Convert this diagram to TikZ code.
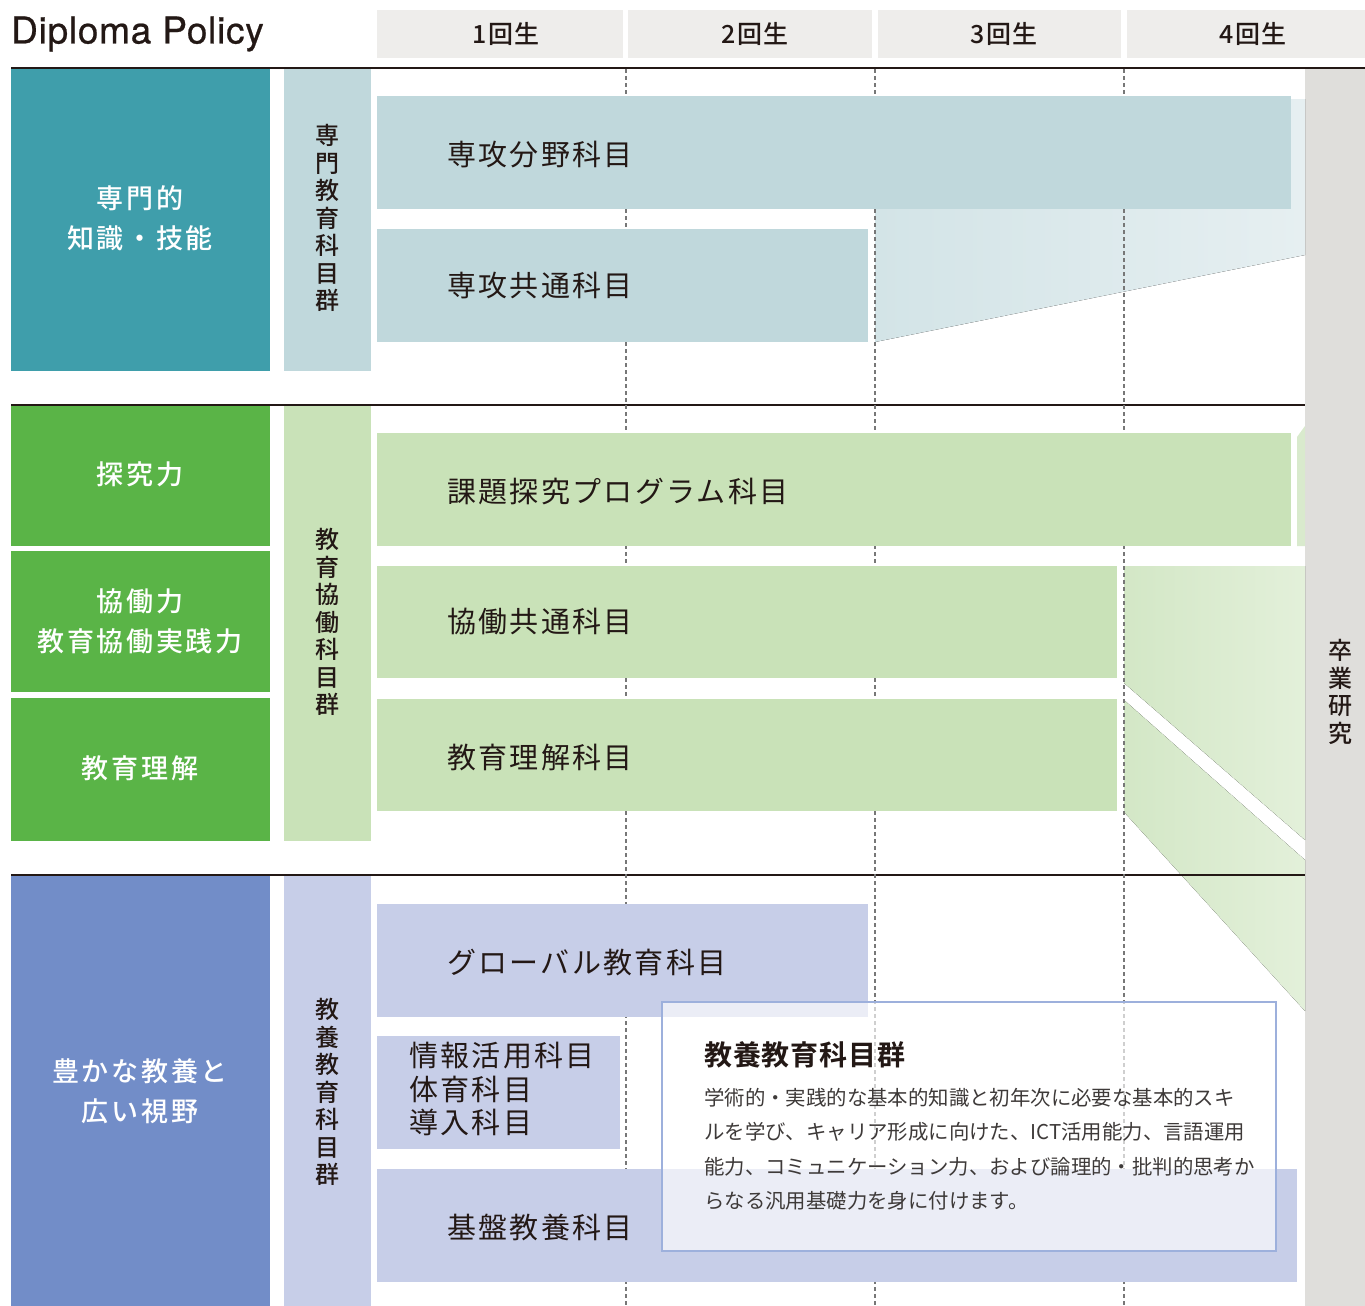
\documentclass[tikz,border=0pt]{standalone}
\usepackage{fontspec}
\setmainfont{Noto Sans CJK JP}
\newfontfamily\latf[FakeBold=0.6,LetterSpace=2]{TeX Gyre Heros}
\newfontfamily\jpls[LetterSpace=8]{Noto Sans CJK JP}
\newfontfamily\jpmed[LetterSpace=10]{Noto Sans CJK JP Medium}
\newfontfamily\jpmedv{Noto Sans CJK JP Medium}
\newfontfamily\jpyr[LetterSpace=6]{Noto Sans CJK JP Medium}
\newfontfamily\jpbold[LetterSpace=3]{Noto Sans CJK JP Bold}
\definecolor{ink}{HTML}{231815}
\definecolor{body}{HTML}{3E3A39}
\definecolor{teal}{HTML}{3F9EAB}
\definecolor{lteal}{HTML}{C0D8DC}
\definecolor{dgreen}{HTML}{5AB447}
\definecolor{lgreen}{HTML}{C9E2B8}
\definecolor{dblue}{HTML}{728DC8}
\definecolor{lblue}{HTML}{C7CEE8}
\definecolor{colgray}{HTML}{DFDEDB}
\definecolor{headgray}{HTML}{EEEDEB}
\definecolor{boxline}{HTML}{9DB0DC}
\definecolor{dashgray}{HTML}{777777}
\definecolor{fanTa}{HTML}{D3E4E7}
\definecolor{fanTb}{HTML}{E6EFF1}
\definecolor{fanGa}{HTML}{D3E7C6}
\definecolor{fanGb}{HTML}{E3F0DA}
\definecolor{fanGc}{HTML}{D9EACD}
\tikzset{
  rule/.style={draw=ink, line width=1.3pt},
  yeardash/.style={draw=dashgray, line width=1.2pt, dash pattern=on 4pt off 3pt},
  bartext/.style={anchor=west, inner sep=0pt, text=ink, font=\jpls\fontsize{29}{33}\selectfont},
  dptext/.style={align=center, inner sep=0pt, text=white, font=\jpmed\fontsize{27}{40}\selectfont},
  vtext/.style={align=center, inner sep=0pt, text=ink, font=\jpmedv\fontsize{24}{27.5}\selectfont},
  yeartext/.style={inner sep=0pt, text=ink, font=\jpyr\fontsize{25}{30}\selectfont},
}
\begin{document}
\begin{tikzpicture}[x=1pt,y=-1pt]
\useasboundingbox (0,0) rectangle (1365,1306);
% header
\node[anchor=west, inner sep=0pt, text=ink, font=\latf\fontsize{37}{40}\selectfont] (title) at (11,34) {Diploma Policy};
\fill[headgray] (377,10) rectangle (623,58);
\fill[headgray] (628,10) rectangle (872,58);
\fill[headgray] (878,10) rectangle (1121,58);
\fill[headgray] (1127,10) rectangle (1365,58);
\node[yeartext] (y1) at (506,34) {1回生};
\node[yeartext] (y2) at (755,34) {2回生};
\node[yeartext] (y3) at (1004,34) {3回生};
\node[yeartext] (y4) at (1253,34) {4回生};
% right grey column
\fill[colgray] (1305,69) rectangle (1365,1306);
\node[vtext] (sotsu) at (1340,692) {卒\\業\\研\\究};
% left column
\fill[teal] (11,69) rectangle (270,371);
\fill[dgreen] (11,405) rectangle (270,546);
\fill[dgreen] (11,551) rectangle (270,692);
\fill[dgreen] (11,698) rectangle (270,841);
\fill[dblue] (11,876) rectangle (270,1306);
\node[dptext] (dp1) at (140,218) {専門的\\知識・技能};
\node[dptext] (dp2) at (140,474) {探究力};
\node[dptext] (dp3) at (140,621) {協働力\\教育協働実践力};
\node[dptext] (dp4) at (140,768) {教育理解};
\node[dptext] (dp5) at (140,1091) {豊かな教養と\\広い視野};
% second column
\fill[lteal] (284,69) rectangle (371,371);
\fill[lgreen] (284,405) rectangle (371,841);
\fill[lblue] (284,876) rectangle (371,1306);
\node[vtext] (g1) at (327,218) {専\\門\\教\\育\\科\\目\\群};
\node[vtext] (g2) at (327,622) {教\\育\\協\\働\\科\\目\\群};
\node[vtext] (g3) at (327,1092) {教\\養\\教\\育\\科\\目\\群};
% fans
\fill[left color=fanTa, right color=fanTb] (875,99) -- (1305,99) -- (1305,255) -- (875,342) -- cycle;
\fill[left color=fanGa, right color=fanGb] (1124,566) -- (1305,566) -- (1305,840) -- (1124,683) -- cycle;
\fill[left color=fanGa, right color=fanGb] (1124,700) -- (1305,860) -- (1305,1011) -- (1124,812) -- cycle;
\fill[fanGc] (1297,437) -- (1305,426) -- (1305,546) -- (1297,546) -- cycle;
% rules
\draw[rule] (11,68) -- (1365,68);
\draw[rule] (11,405) -- (1305,405);
\draw[rule] (11,875) -- (1305,875);
% year dashes
\draw[yeardash] (626,69) -- (626,1306);
\draw[yeardash] (875,69) -- (875,1306);
\draw[yeardash] (1124,69) -- (1124,1306);
% bars
\fill[lteal] (377,96) rectangle (1291,209);
\fill[lteal] (377,229) rectangle (868,342);
\fill[lgreen] (377,433) rectangle (1291,546);
\fill[lgreen] (377,566) rectangle (1117,678);
\fill[lgreen] (377,699) rectangle (1117,811);
\fill[lblue] (377,904) rectangle (868,1017);
\fill[lblue] (377,1036) rectangle (620,1149);
\fill[lblue] (377,1169) rectangle (1297,1282);
\node[bartext] (b1) at (447,155) {専攻分野科目};
\node[bartext] (b2) at (447,286) {専攻共通科目};
\node[bartext] (b3) at (447,492) {課題探究プログラム科目};
\node[bartext] (b4) at (447,622) {協働共通科目};
\node[bartext] (b5) at (447,757) {教育理解科目};
\node[bartext] (b6) at (447,962) {グローバル教育科目};
\node[bartext, anchor=north west, align=left, font=\jpls\fontsize{29}{33.5}\selectfont] (b7) at (409,1042) {情報活用科目\\体育科目\\導入科目};
\node[bartext] (b8) at (447,1227) {基盤教養科目};
% info box
\fill[white, fill opacity=0.65] (662,1002) rectangle (1276,1251);
\draw[boxline, line width=2pt] (662,1002) rectangle (1276,1251);
\node[anchor=west, inner sep=0pt, text=ink, font=\jpbold\fontsize{28}{32}\selectfont] (bt) at (704,1055) {教養教育科目群};
\node[anchor=north west, inner sep=0pt, align=left, text=body, font=\fontsize{20.4}{34.5}\selectfont] (bb) at (704,1088) {学術的・実践的な基本的知識と初年次に必要な基本的スキ\\ルを学び、キャリア形成に向けた、ICT活用能力、言語運用\\能力、コミュニケーション力、および論理的・批判的思考か\\らなる汎用基礎力を身に付けます。};
\end{tikzpicture}
\end{document}
